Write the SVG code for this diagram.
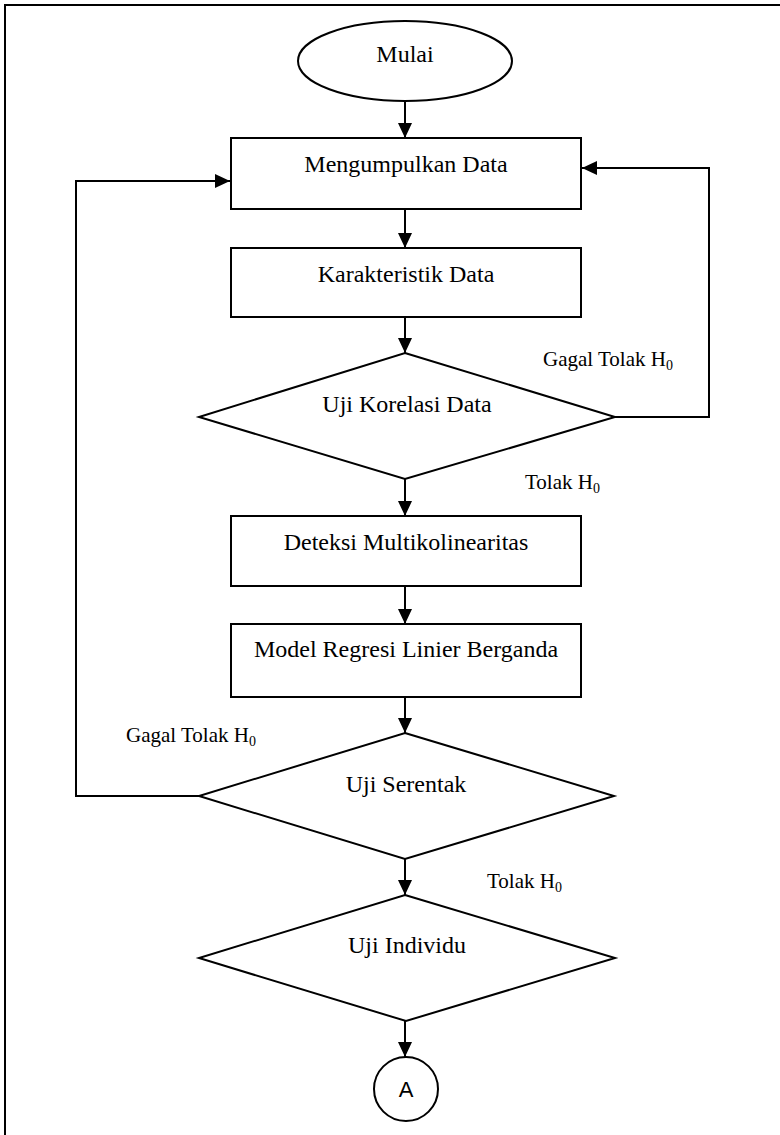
<svg xmlns="http://www.w3.org/2000/svg" width="780" height="1135" viewBox="0 0 780 1135">
<style>
.shape{fill:#fff;stroke:#000;stroke-width:2}
.conn{fill:none;stroke:#000;stroke-width:2}
.t{font-family:"Liberation Serif","Times New Roman",serif;font-size:24px;fill:#000;text-anchor:middle}
.lbl{font-family:"Liberation Serif","Times New Roman",serif;font-size:21px;fill:#000}
.sub{font-size:14px}
.a{font-family:"Liberation Sans",Arial,sans-serif;font-size:22px;fill:#000;text-anchor:middle}
</style>
<defs>
<marker id="arr" markerUnits="userSpaceOnUse" markerWidth="16" markerHeight="14" refX="15" refY="7" orient="auto">
<path d="M0,0 L15,7 L0,14 z" fill="#000"/>
</marker>
</defs>
<rect width="780" height="1135" fill="#fff"/>
<path d="M5,1135 V5 H780" fill="none" stroke="#000" stroke-width="2"/>
<g id="connectors">
<line class="conn" x1="405" y1="101" x2="405" y2="138" marker-end="url(#arr)"/>
<line class="conn" x1="405" y1="209" x2="405" y2="248" marker-end="url(#arr)"/>
<line class="conn" x1="405" y1="317" x2="405" y2="353" marker-end="url(#arr)"/>
<line class="conn" x1="405" y1="479" x2="405" y2="516" marker-end="url(#arr)"/>
<line class="conn" x1="405" y1="586" x2="405" y2="624" marker-end="url(#arr)"/>
<line class="conn" x1="405" y1="697" x2="405" y2="733" marker-end="url(#arr)"/>
<line class="conn" x1="405" y1="859" x2="405" y2="895" marker-end="url(#arr)"/>
<line class="conn" x1="405" y1="1021" x2="405" y2="1057" marker-end="url(#arr)"/>
<path class="conn" d="M615,417 H709 V168 H582" marker-end="url(#arr)"/>
<path class="conn" d="M199,796 H76 V181 H230" marker-end="url(#arr)"/>
</g>
<g id="mulai">
<ellipse class="shape" cx="405" cy="61" rx="107" ry="40"/>
<text class="t" x="405" y="62">Mulai</text>
</g>
<g id="mengumpulkan">
<rect class="shape" x="231" y="138" width="350" height="71"/>
<text class="t" x="406" y="172">Mengumpulkan Data</text>
</g>
<g id="karakteristik">
<rect class="shape" x="231" y="248" width="350" height="69"/>
<text class="t" x="406" y="282">Karakteristik Data</text>
</g>
<g id="korelasi">
<polygon class="shape" points="405,353 615,417 405,479 199,417"/>
<text class="t" x="407" y="412">Uji Korelasi Data</text>
</g>
<g id="deteksi">
<rect class="shape" x="231" y="516" width="350" height="70"/>
<text class="t" x="406" y="550">Deteksi Multikolinearitas</text>
</g>
<g id="model">
<rect class="shape" x="231" y="624" width="350" height="73"/>
<text class="t" x="406" y="657">Model Regresi Linier Berganda</text>
</g>
<g id="serentak">
<polygon class="shape" points="405,733 614,796 405,859 199,796"/>
<text class="t" x="406" y="792">Uji Serentak</text>
</g>
<g id="individu">
<polygon class="shape" points="405,895 615,958 406,1021 199,958"/>
<text class="t" x="407" y="953">Uji Individu</text>
</g>
<g id="konektorA">
<circle class="shape" cx="406" cy="1089" r="32"/>
<text class="a" x="406" y="1097">A</text>
</g>
<g id="labels">
<text class="lbl" x="543" y="366">Gagal Tolak H<tspan class="sub" dy="4">0</tspan></text>
<text class="lbl" x="525" y="489">Tolak H<tspan class="sub" dy="4">0</tspan></text>
<text class="lbl" x="126" y="742">Gagal Tolak H<tspan class="sub" dy="4">0</tspan></text>
<text class="lbl" x="487" y="888">Tolak H<tspan class="sub" dy="4">0</tspan></text>
</g>
</svg>
